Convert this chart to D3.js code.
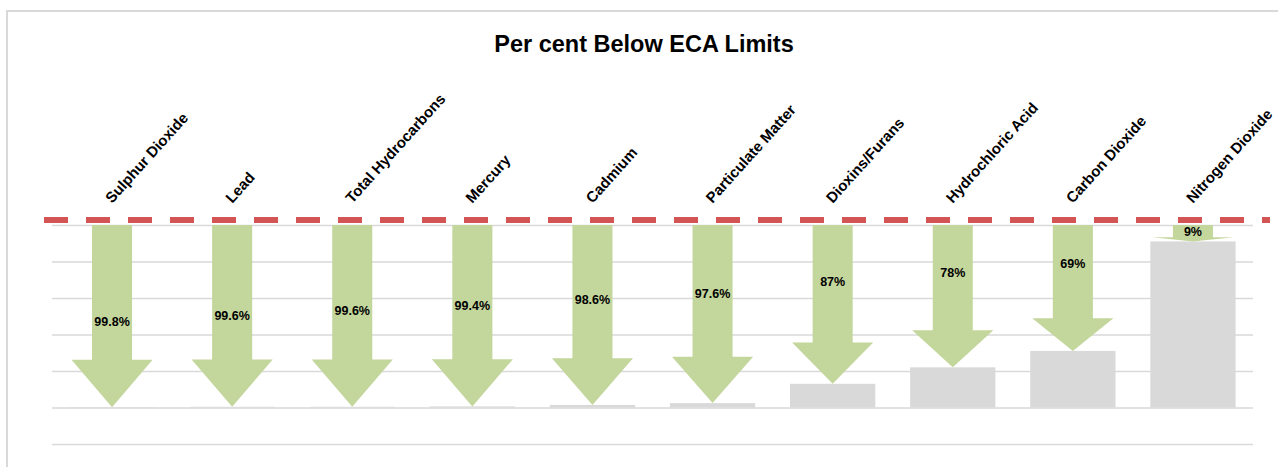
<!DOCTYPE html>
<html>
<head>
<meta charset="utf-8">
<script src="https://cdn.jsdelivr.net/npm/d3@7"></script>
<style>
  body { margin: 0; background: #ffffff; }
  svg { display: block; }
</style>
</head>
<body>
<svg id="chart" width="1278" height="467"></svg>
<script>
let pollutants = ['Sulphur Dioxide', 'Lead', 'Total Hydrocarbons', 'Mercury', 'Cadmium',
    'Particulate Matter', 'Dioxins/Furans', 'Hydrochloric Acid', 'Carbon Dioxide', 'Nitrogen Dioxide'];
// per cent below the ECA limit (arrow labels)
let belowLimit = [99.8, 99.6, 99.6, 99.4, 98.6, 97.6, 87, 78, 69, 9];
// measured emission as per cent of the limit (grey bars)
let percentOfLimit = [0.2, 0.4, 0.4, 0.6, 1.4, 2.4, 13, 22, 31, 91];
let gridTicks = [-20, 0, 20, 40, 60, 80, 100];
let ecaLimit = 100;

let svg;
let x;
let y;
let fontFam = "'Liberation Sans', Arial, sans-serif";

document.addEventListener("DOMContentLoaded", function(){
    svg = d3.select('#chart');
    drawFrame();
    drawGrid();
    drawBars();
    drawArrows();
    drawLimitLine();
    drawLabels();
});

function drawFrame(){
    svg.append("rect")
        .attr("x", 7).attr("y", 11)
        .attr("width", 1300).attr("height", 480)
        .attr("fill", "none")
        .attr("stroke", "#d9d9d9")
        .attr("stroke-width", 2);

    svg.append("text")
        .attr("x", 644).attr("y", 52)
        .attr("text-anchor", "middle")
        .attr("font-family", fontFam)
        .attr("font-weight", "bold")
        .attr("font-size", "23.5px")
        .attr("fill", "#000")
        .text("Per cent Below ECA Limits");

    x = d3.scaleBand()
        .domain(pollutants)
        .range([52, 1253])
        .paddingInner(0.29)
        .paddingOuter(0.145);

    y = d3.scaleLinear()
        .domain([-20, 100])
        .range([444, 225]);
}

function drawGrid(){
    svg.append("g")
        .attr("transform", `translate(${x.range()[0]},0)`)
        .call(d3.axisLeft(y)
            .tickValues(gridTicks)
            .tickSize(-(x.range()[1] - x.range()[0]))
            .tickFormat(""))
        .call(g => g.select(".domain").remove())
        .call(g => g.selectAll(".tick line")
            .attr("stroke", "#d9d9d9")
            .attr("stroke-width", 1.5));
}

function drawBars(){
    svg.append("g")
        .selectAll("rect")
        .data(pollutants)
        .enter()
        .append("rect")
            .attr("x", d => x(d))
            .attr("width", x.bandwidth())
            .attr("y", (d, i) => y(percentOfLimit[i]))
            .attr("height", (d, i) => y(0) - y(percentOfLimit[i]))
            .attr("fill", "#d9d9d9");
}

function arrowPath(d, i){
    let cx = x(d) + x.bandwidth() / 2;
    let step = x.step();
    let shaft = step / 3 / 2;
    let head = step * 0.675 / 2;
    let top = y(ecaLimit);
    let tip = y(ecaLimit - belowLimit[i]);
    let headLen = (tip - top) * 0.26;
    let neck = tip - headLen;
    return `M${cx - shaft},${top} L${cx + shaft},${top} L${cx + shaft},${neck} L${cx + head},${neck}` +
        ` L${cx},${tip} L${cx - head},${neck} L${cx - shaft},${neck} Z`;
}

function drawArrows(){
    let g = svg.append("g");

    g.selectAll("path")
        .data(pollutants)
        .enter()
        .append("path")
            .attr("d", arrowPath)
            .attr("fill", "#c3d69b");

    g.selectAll("text")
        .data(pollutants)
        .enter()
        .append("text")
            .attr("x", d => x(d) + x.bandwidth() / 2)
            .attr("y", (d, i) => {
                let top = y(ecaLimit);
                let len = y(ecaLimit - belowLimit[i]) - top;
                // labels were hand-placed, stepping upward left to right
                let f = len < 40 ? 0.45 : 0.53 - 0.028 * i;
                return top + f * len + 4;
            })
            .attr("text-anchor", "middle")
            .attr("font-family", fontFam)
            .attr("font-weight", "bold")
            .attr("font-size", "12.5px")
            .attr("fill", "#000")
            .text((d, i) => belowLimit[i] + "%");
}

function drawLimitLine(){
    svg.append("line")
        .attr("x1", x.range()[0] - 8)
        .attr("x2", x.range()[1] + 17)
        .attr("y1", y(ecaLimit) - 5)
        .attr("y2", y(ecaLimit) - 5)
        .attr("stroke", "#d35454")
        .attr("stroke-width", 6)
        .attr("stroke-dasharray", "24,18");
}

function drawLabels(){
    svg.append("g")
        .selectAll("text")
        .data(pollutants)
        .enter()
        .append("text")
            .attr("transform", d => `translate(${x(d) + x.bandwidth() / 2},${y(ecaLimit) - 21}) rotate(-48)`)
            .attr("text-anchor", "start")
            .attr("font-family", fontFam)
            .attr("font-weight", "bold")
            .attr("font-size", "15px")
            .attr("fill", "#000")
            .text(d => d);
}
</script>
</body>
</html>
